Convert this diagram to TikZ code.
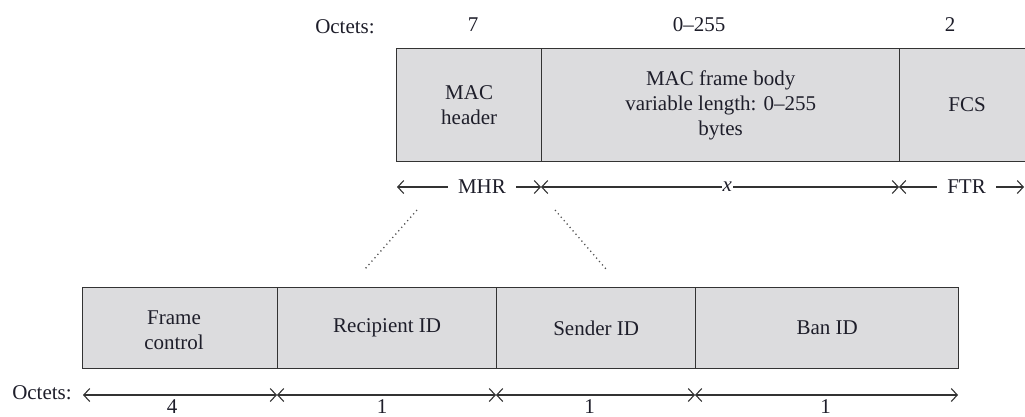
\documentclass[tikz,border=0pt]{standalone}
\usepackage{fontspec}
\setmainfont{Liberation Serif}
\usetikzlibrary{arrows.meta}
\definecolor{cellfill}{HTML}{DCDCDE}
\definecolor{ink}{HTML}{1E1E2A}
\definecolor{rulecol}{HTML}{333333}
\begin{document}
\begin{tikzpicture}[x=1pt,y=-1pt,
  every node/.style={font=\fontsize{21}{25}\selectfont, text=ink, align=center},
  cell/.style={draw=rulecol, line width=1.3pt, fill=cellfill, anchor=north west,
               inner sep=0pt, align=center},
  span/.style={draw=rulecol, line width=1.1pt,
               {Straight Barb[length=6pt,width=13pt]}-{Straight Barb[length=6pt,width=13pt]}},
  gaplabel/.style={fill=white, inner xsep=10pt, inner ysep=2pt},
  tightlabel/.style={fill=white, inner xsep=1pt, inner ysep=2pt},
  numlabel/.style={inner sep=0pt},
  zoomline/.style={draw=rulecol!85, line width=1.3pt, dash pattern=on 1.2pt off 3.3pt}]

\useasboundingbox (0,0) rectangle (1025,416);
\clip (0,0) rectangle (1025,416);

% ---- MAC frame ----
\node (oct1) at (345,27) {Octets:};
\node (n7)   at (473,25) {7};
\node (nbody) at (699,25) {0–255};
\node (n2)   at (950,25) {2};

\node[cell, minimum width=145pt, minimum height=113pt] (mhr) at (396,48) {MAC\\header};
\node[cell, minimum width=358pt, minimum height=113pt] (body) at (541,48)
  {MAC frame body\\variable length: 0–255\\bytes};
\node[cell, minimum width=136pt, minimum height=113pt] (fcs) at (899,48) {};
\node at (967,105) {FCS};

% field spans under the frame
\coordinate (s0) at (397,187);
\coordinate (s1) at (541,187);
\coordinate (s2) at (899,187);
\coordinate (s3) at (1024,187);
\draw[span] (s0) -- (s1) node[gaplabel, pos=0.59] (lmhr) {MHR};
\draw[span] (s1) -- (s2) node[tightlabel, pos=0.52] (lx) {\itshape x};
\draw[span] (s2) -- (s3) node[gaplabel, pos=0.54] (lftr) {FTR};

% expansion of the header
\coordinate (z0) at (417,210);
\coordinate (z1) at (365,269);
\coordinate (z2) at (555,210);
\coordinate (z3) at (606,269);
\draw[zoomline] (z0) -- (z1);
\draw[zoomline] (z2) -- (z3);

% ---- MAC header fields ----
\node[cell, minimum width=195pt, minimum height=81pt] (fc)  at (82,287)  {};
\node (lfc) at (174,330) {Frame\\control};
\node[cell, minimum width=219pt, minimum height=81pt] (rid) at (277,287) {Recipient ID};
\node[cell, minimum width=199pt, minimum height=81pt] (sid) at (496,287) {Sender ID};
\node[cell, minimum width=263pt, minimum height=81pt] (bid) at (695,287) {Ban ID};

\node (oct2) at (42,393) {Octets:};
\coordinate (b0) at (83,395);
\coordinate (b1) at (277,395);
\coordinate (b2) at (496,395);
\coordinate (b3) at (695,395);
\coordinate (b4) at (958,395);
\draw[span] (b0) -- (b1) node[numlabel, pos=0.46, below=4pt] {4};
\draw[span] (b1) -- (b2) node[numlabel, pos=0.48, below=4pt] {1};
\draw[span] (b2) -- (b3) node[numlabel, pos=0.47, below=4pt] {1};
\draw[span] (b3) -- (b4) node[numlabel, pos=0.497, below=4pt] {1};
\end{tikzpicture}
\end{document}
